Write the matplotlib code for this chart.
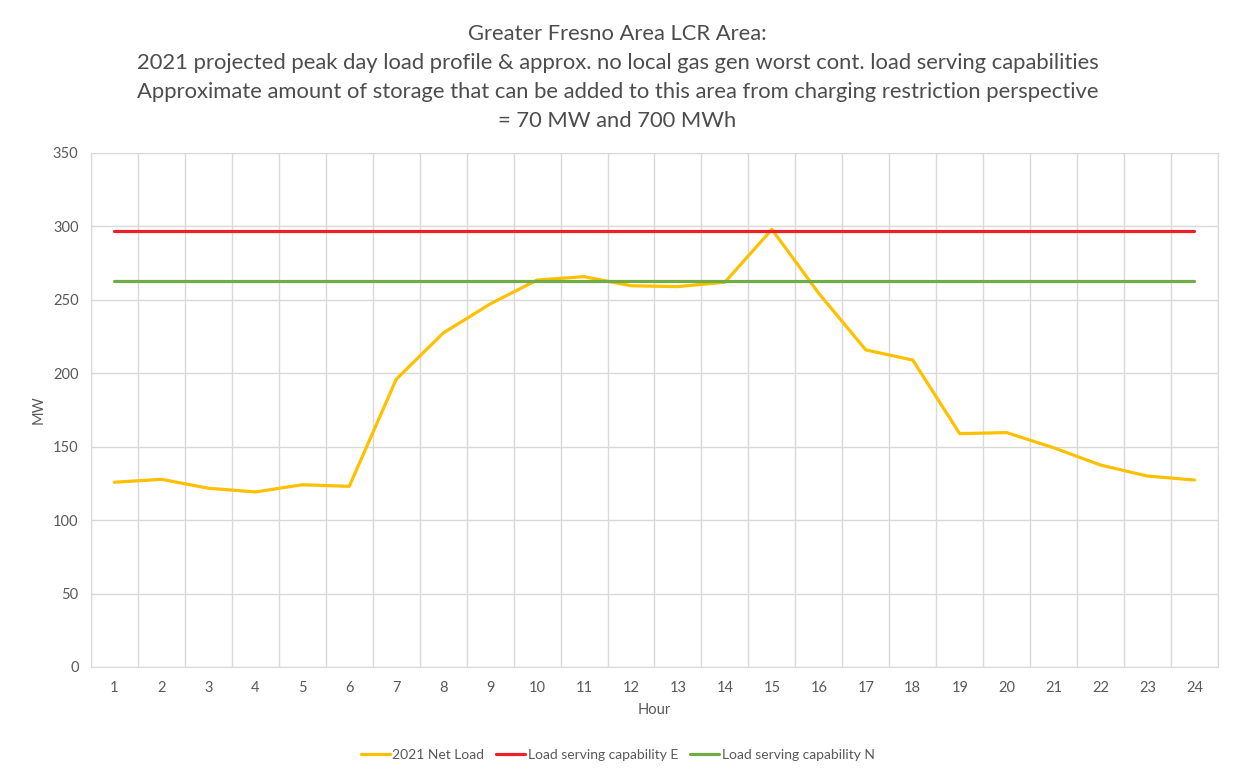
import matplotlib.pyplot as plt
import numpy as np

# hourly net load and capability levels (MW)
hours = list(range(1, 25))
net_load = [125.8, 127.8, 121.7, 119.2, 124.1, 123.0, 195.9, 227.4, 247.2, 263.5,
            265.8, 259.6, 259.0, 262.0, 298.0, 254.4, 215.9, 209.0, 158.9, 159.6,
            149.3, 137.5, 130.0, 127.3]
cap_e = [297] * 24
cap_n = [263] * 24

plt.rcParams['font.family'] = ['Lato', 'DejaVu Sans']

fig = plt.figure(figsize=(12.35, 7.79), dpi=100)
ax = fig.add_axes([0.0737, 0.1438, 0.9125, 0.6598])

ax.plot(hours, net_load, color='#FFC000', lw=2.3, label='2021 Net Load', solid_capstyle='round')
ax.plot(hours, cap_e, color='#EE2027', lw=2.3, label='Load serving capability E', solid_capstyle='round')
ax.plot(hours, cap_n, color='#70AD47', lw=2.3, label='Load serving capability N', solid_capstyle='round')

ax.set_xlim(0.5, 24.5)
ax.set_ylim(0, 350)
ax.set_yticks(np.arange(0, 351, 50))
ax.set_xticks(hours)
ax.set_xticks(np.arange(0.5, 25, 1), minor=True)
ax.grid(True, which='major', axis='y', color='#D9D9D9', lw=1)
ax.grid(True, which='minor', axis='x', color='#D9D9D9', lw=1)
ax.set_axisbelow(True)
ax.tick_params(axis='both', which='major', length=0, labelsize=10.5, labelcolor='#595959')
ax.tick_params(axis='x', which='major', pad=10)
ax.tick_params(axis='y', which='major', pad=9)
ax.tick_params(axis='x', which='minor', length=0)
for s in ax.spines.values():
    s.set_color('#D9D9D9')

ax.set_xlabel('Hour', fontsize=10.5, color='#595959', labelpad=6)
ax.set_ylabel('MW', fontsize=10.5, color='#595959', labelpad=5)

fig.text(0.5, 0.969,
         'Greater Fresno Area LCR Area:\n'
         '2021 projected peak day load profile & approx. no local gas gen worst cont. load serving capabilities\n'
         'Approximate amount of storage that can be added to this area from charging restriction perspective\n'
         '= 70 MW and 700 MWh',
         ha='center', va='top', fontsize=15.8, color='#4D4D4D', linespacing=1.56)

fig.legend(loc='center', bbox_to_anchor=(0.5, 0.031), ncol=3, frameon=False,
           fontsize=10, handlelength=2.1, handletextpad=0.15, columnspacing=0.9,
           labelcolor='#595959')

fig.savefig('out.png', dpi=100)
